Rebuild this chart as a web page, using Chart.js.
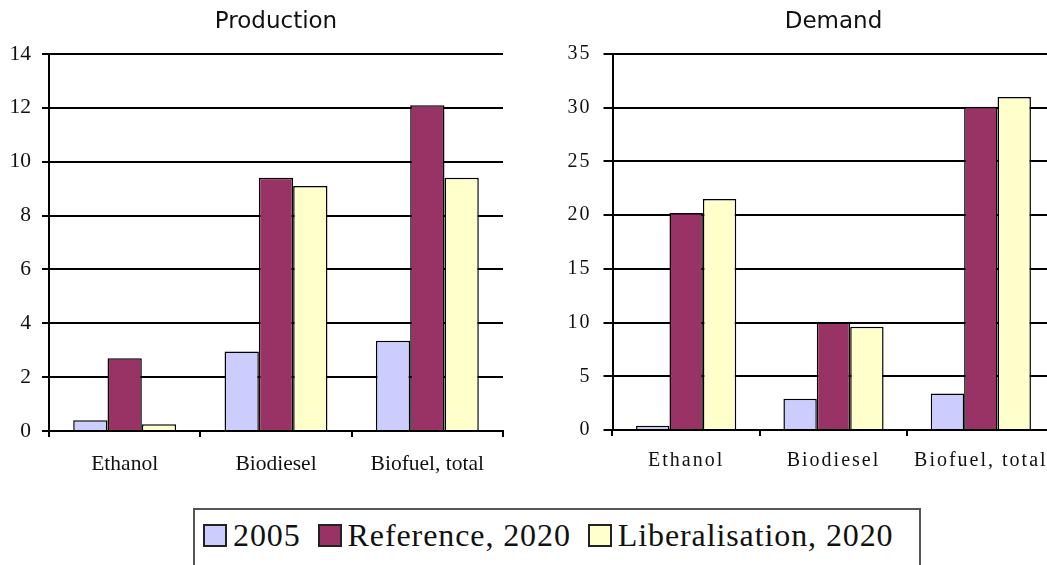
<!DOCTYPE html>
<html>
<head>
<meta charset="utf-8">
<title>Biofuel production and demand</title>
<script src="https://cdn.jsdelivr.net/npm/chart.js@4.4.1/dist/chart.umd.min.js"></script>
<style>
  html, body { margin: 0; padding: 0; background: #fff; width: 1047px; height: 565px; overflow: hidden; }
  #wrap { position: relative; width: 1047px; height: 565px; overflow: hidden; }
  #prodBox { position: absolute; left: 0; top: 0; width: 552px; height: 500px; }
  #demBox  { position: absolute; left: 540px; top: 0; width: 587px; height: 500px; }
  #legend {
    position: absolute; left: 193px; top: 508px; width: 728px; height: 90px;
    box-sizing: border-box; border: 2px solid #555; background: #fff;
    display: flex; align-items: flex-start; padding: 14px 0 0 8px;
    font-family: "Liberation Serif", "Times New Roman", serif; font-size: 32px; color: #111;
  }
  .item { display: flex; align-items: center; margin-right: 17px; height: 23px; }
  .sw { width: 24px; height: 23px; box-sizing: border-box; border: 2px solid #222; margin-right: 6px; flex: none; }
  .lbl { line-height: 23px; white-space: nowrap; letter-spacing: 0.9px; }
</style>
</head>
<body>
<div id="wrap">
  <div id="prodBox"><canvas id="production"></canvas></div>
  <div id="demBox"><canvas id="demand"></canvas></div>
  <div id="legend"></div>
</div>
<script>
// Categories and series
const categories = ['Ethanol', 'Biodiesel', 'Biofuel, total'];
const seriesNames = ['2005', 'Reference, 2020', 'Liberalisation, 2020'];
const seriesColors = ['#CCCCFF', '#993366', '#FFFFCC'];

// Production values
const production2005 = [0.4, 2.95, 3.35];
const productionReference2020 = [2.7, 9.4, 12.1];
const productionLiberalisation2020 = [0.25, 9.1, 9.4];

// Demand values
const demand2005 = [0.4, 2.9, 3.4];
const demandReference2020 = [20.2, 10.0, 30.1];
const demandLiberalisation2020 = [21.5, 9.6, 31.0];

// Value axis tick labels
const productionTicks = [0, 2, 4, 6, 8, 10, 12, 14];
const demandTicks = [0, 5, 10, 15, 20, 25, 30, 35];

function makeDatasets(values) {
  return values.map((data, i) => ({
    label: seriesNames[i],
    data: data,
    backgroundColor: seriesColors[i],
    borderColor: '#000',
    borderWidth: 1.5,
    borderSkipped: 'start',
    barPercentage: 1.0,
    categoryPercentage: 0.68
  }));
}

// Draws tick labels with extra letter spacing
const spacedLabels = {
  id: 'spacedLabels',
  afterUpdate(chart, args, opts) {
    if (!opts.spacing) return;
    Object.values(chart.scales).forEach(scale => {
      if (scale._spacedLabels) return;
      scale._spacedLabels = true;
      const base = Object.getPrototypeOf(scale).drawLabels;
      scale.drawLabels = function (area) {
        const ctx = this.ctx;
        ctx.save();
        ctx.letterSpacing = opts.spacing + 'px';
        base.call(this, area);
        ctx.restore();
      };
    });
  }
};

function makeChart(canvasId, cfg) {
  return new Chart(document.getElementById(canvasId), {
    type: 'bar',
    data: { labels: categories, datasets: makeDatasets(cfg.values) },
    plugins: [spacedLabels],
    options: {
      responsive: true,
      maintainAspectRatio: false,
      animation: false,
      events: [],
      layout: { padding: { left: 0, right: cfg.padRight, top: 0, bottom: 0 } },
      plugins: {
        legend: { display: false },
        tooltip: { enabled: false },
        spacedLabels: { spacing: cfg.spacing },
        title: {
          display: true,
          fullSize: false,
          text: cfg.title,
          color: '#111',
          font: { family: '"DejaVu Sans", Verdana, sans-serif', size: 23, weight: 'normal', lineHeight: 1.2 },
          padding: { top: 8, bottom: 18.4 }
        }
      },
      scales: {
        x: {
          offset: true,
          grid: { offset: true, drawOnChartArea: false, drawTicks: true, tickLength: 6, color: '#000', lineWidth: 2 },
          border: { display: true, color: '#000', width: 2 },
          ticks: {
            color: '#111', autoSkip: false, maxRotation: 0, minRotation: 0, padding: cfg.xPad,
            font: { family: '"Liberation Serif", "Times New Roman", serif', size: cfg.xFont }
          },
          afterFit: s => { s.height = cfg.xHeight; }
        },
        y: {
          min: cfg.ticks[0],
          max: cfg.ticks[cfg.ticks.length - 1],
          afterBuildTicks: s => { s.ticks = cfg.ticks.map(v => ({ value: v })); },
          grid: { color: '#000', lineWidth: 2, drawTicks: true, tickLength: cfg.yTick },
          border: { display: true, color: '#000', width: 2 },
          ticks: {
            color: '#111', padding: cfg.yPad,
            font: { family: '"Liberation Serif", "Times New Roman", serif', size: cfg.yFont }
          },
          afterFit: s => { s.width = cfg.yWidth; }
        }
      }
    }
  });
}

makeChart('production', {
  title: 'Production',
  values: [production2005, productionReference2020, productionLiberalisation2020],
  ticks: productionTicks,
  padRight: 49, yWidth: 49, xHeight: 69, yTick: 7, yPad: 11, xPad: 14,
  xFont: 21.5, yFont: 21.5, spacing: 0
});

makeChart('demand', {
  title: 'Demand',
  values: [demand2005, demandReference2020, demandLiberalisation2020],
  ticks: demandTicks,
  padRight: 72.5, yWidth: 72.5, xHeight: 70, yTick: 9, yPad: 12, xPad: 13,
  xFont: 20, yFont: 20, spacing: 2
});

// Shared legend for both panels
const legend = document.getElementById('legend');
seriesNames.forEach((name, i) => {
  const item = document.createElement('div');
  item.className = 'item';
  const sw = document.createElement('span');
  sw.className = 'sw';
  sw.style.background = seriesColors[i];
  const lbl = document.createElement('span');
  lbl.className = 'lbl';
  lbl.textContent = name;
  item.appendChild(sw);
  item.appendChild(lbl);
  legend.appendChild(item);
});
</script>
</body>
</html>
